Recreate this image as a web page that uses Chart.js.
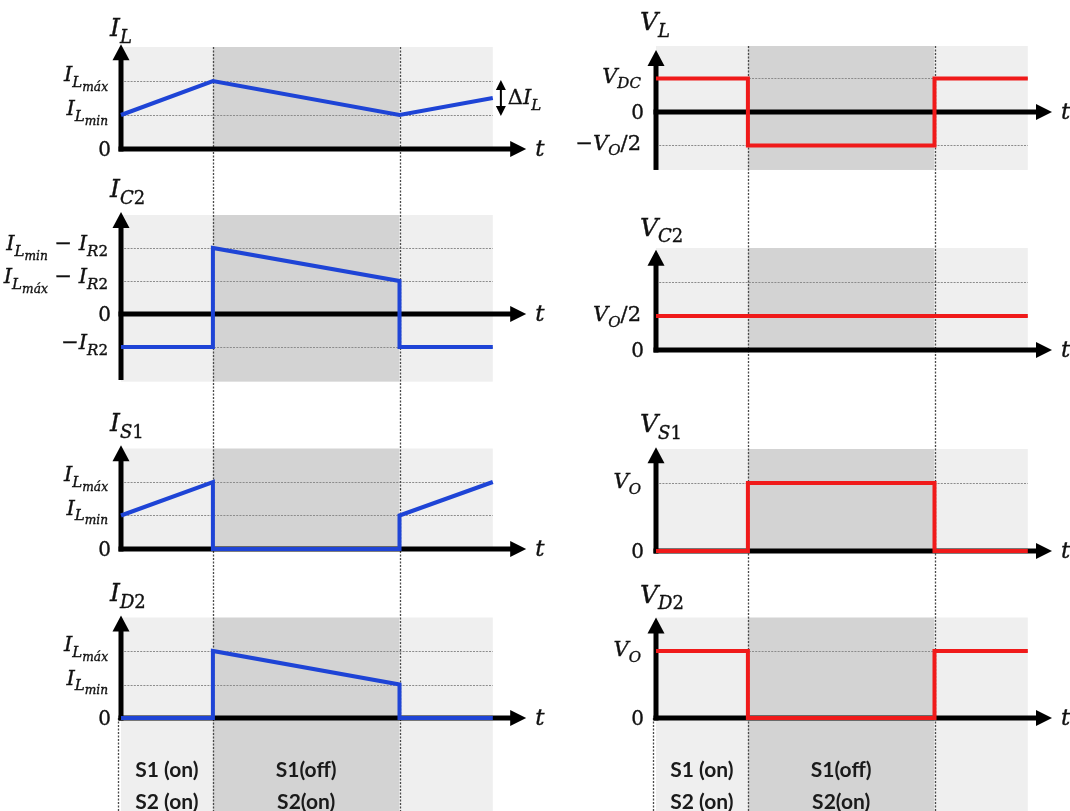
<!DOCTYPE html>
<html>
<head>
<meta charset="utf-8">
<script src="https://cdn.jsdelivr.net/npm/chart.js@4/dist/chart.umd.min.js"></script>
<style>
  html, body { margin: 0; padding: 0; background: #fff; }
  #wrap { position: relative; width: 1070px; height: 811px; }
</style>
</head>
<body>
<div id="wrap"><canvas id="c"></canvas></div>
<script>
// ---- Switching intervals (time in units of the period T) ----
// S1 on from 0 to D, S1 off from D to T, then a little of the next period.
const phaseTimes = [0, 0.33, 1, 1.335];
const rampTimes  = [0, 0.33, 1, 1.335];
const stepTimes  = [0, 0.33, 0.33, 1, 1, 1.335];
const flatTimes  = [0, 1.335];

// ---- Waveforms (normalised levels) ----
const iL  = [1, 2, 1, 1.5];
const iC2 = [-1, -1, 2, 1, -1, -1];
const iS1 = [1, 2, 0, 0, 1, 2];
const iD2 = [0, 0, 2, 1, 0, 0];
const vL  = [1, 1, -1, -1, 1, 1];
const vC2 = [1, 1];
const vS1 = [0, 0, 2, 2, 0, 0];
const vD2 = [2, 2, 0, 0, 2, 2];

// ---- Axis titles and tick labels (TeX-like subscripts) ----
const titles = ['I_{L}', 'I_{C2}', 'I_{S1}', 'I_{D2}', 'V_{L}', 'V_{C2}', 'V_{S1}', 'V_{D2}'];
const ticksIL  = [0, 1, 2];      const labelsIL  = ['0', 'I_{L_{min}}', 'I_{L_{máx}}'];
const ticksIC2 = [-1, 0, 1, 2];  const labelsIC2 = ['−I_{R2}', '0', 'I_{L_{máx}} − I_{R2}', 'I_{L_{min}} − I_{R2}'];
const ticksIS1 = [0, 1, 2];      const labelsIS1 = ['0', 'I_{L_{min}}', 'I_{L_{máx}}'];
const ticksID2 = [0, 1, 2];      const labelsID2 = ['0', 'I_{L_{min}}', 'I_{L_{máx}}'];
const ticksVL  = [-1, 0, 1];     const labelsVL  = ['−V_{O}/2', '0', 'V_{DC}'];
const ticksVC2 = [0, 1, 2];      const labelsVC2 = ['0', 'V_{O}/2', ''];
const ticksVS1 = [0, 2];         const labelsVS1 = ['0', 'V_{O}'];
const ticksVD2 = [0, 2];         const labelsVD2 = ['0', 'V_{O}'];
const rippleLabel = 'ΔI_{L}';
const phaseLabels = [['S1 (on)', 'S2 (on)'], ['S1(off)', 'S2(on)']];

// ---- Page layout ----
const W = 1070, H = 811;
const PX_PER_T = 278.5;
const BLUE = '#1e44d6', RED = '#f01a1a';
const LIGHT = '#efefef', DARK = '#d3d3d3';
const MATH = '"DejaVu Serif", "Liberation Serif", serif';

const columns = {
  L: { id: 'xL', x0: 121, arrowT: 1.455, labelGap: 13, titleShift: 11 },
  R: { id: 'xR', x0: 656, arrowT: 1.422, labelGap: 15, titleShift: 16 }
};

const panels = [
  { id: 'yIL',  col: 'L', zero: 149, unit: 34,   bgTop: 3,    bgBot: 0,     axisBot: 0,     arrowTop: 3.08, titleDy: 8,  labelDy: 0,  ticks: ticksIL,  labels: labelsIL },
  { id: 'yIC2', col: 'L', zero: 314, unit: 33,   bgTop: 3,    bgBot: -2.05, axisBot: -2.0,  arrowTop: 3.09, titleDy: 15, labelDy: 2,  ticks: ticksIC2, labels: labelsIC2 },
  { id: 'yIS1', col: 'L', zero: 549, unit: 33.5, bgTop: 3,    bgBot: 0,     axisBot: 0,     arrowTop: 3.1,  titleDy: 14, labelDy: -1, ticks: ticksIS1, labels: labelsIS1 },
  { id: 'yID2', col: 'L', zero: 718, unit: 33.5, bgTop: 3,    bgBot: -2.8,  axisBot: 0,     arrowTop: 3.06, titleDy: 14, labelDy: 0,  ticks: ticksID2, labels: labelsID2 },
  { id: 'yVL',  col: 'R', zero: 112, unit: 33.5, bgTop: 1.97, bgBot: -1.73, axisBot: -1.73, arrowTop: 1.85, titleDy: 20, labelDy: 4,  ticks: ticksVL,  labels: labelsVL },
  { id: 'yVC2', col: 'R', zero: 350, unit: 34,   bgTop: 3,    bgBot: 0,     axisBot: 0,     arrowTop: 2.95, titleDy: 14, labelDy: 5,  ticks: ticksVC2, labels: labelsVC2 },
  { id: 'yVS1', col: 'R', zero: 551, unit: 34,   bgTop: 3,    bgBot: 0,     axisBot: 0,     arrowTop: 3.05, titleDy: 15, labelDy: 5,  ticks: ticksVS1, labels: labelsVS1 },
  { id: 'yVD2', col: 'R', zero: 718, unit: 33.5, bgTop: 3,    bgBot: -2.8,  axisBot: 0,     arrowTop: 3.0,  titleDy: 15, labelDy: 5,  ticks: ticksVD2, labels: labelsVD2 }
];

// ---- Rich text: italic letters, upright digits/symbols, nested subscripts ----
function parseRich(s, level, out) {
  let buf = '';
  const flush = () => { if (buf) { out.push({ text: buf, level }); buf = ''; } };
  for (let i = 0; i < s.length; i++) {
    const ch = s[i];
    if (ch === '_') {
      flush();
      if (s[i + 1] === '{') {
        let depth = 0, j = i + 1;
        for (; j < s.length; j++) {
          if (s[j] === '{') depth++;
          else if (s[j] === '}') { depth--; if (depth === 0) break; }
        }
        parseRich(s.slice(i + 2, j), level + 1, out);
        i = j;
      } else {
        out.push({ text: s[i + 1], level: level + 1 });
        i++;
      }
    } else {
      buf += ch;
    }
  }
  flush();
  return out;
}

function richPieces(c, str, size) {
  const sizes = [size, size * 0.72, size * 0.58];
  const drops = [0, size * 0.27, size * 0.46];
  const pieces = [];
  parseRich(str, 0, []).forEach(seg => {
    const lv = Math.min(seg.level, 2);
    let run = '', runItalic = null;
    const push = () => {
      if (!run) return;
      const font = (runItalic ? 'italic ' : '') + sizes[lv].toFixed(1) + 'px ' + MATH;
      c.font = font;
      pieces.push({ text: run, font, dy: drops[lv], w: c.measureText(run).width });
      run = '';
    };
    for (const ch of seg.text) {
      const it = /[A-Za-zá]/.test(ch);
      if (runItalic !== null && it !== runItalic) push();
      runItalic = it;
      run += ch;
    }
    push();
  });
  return pieces;
}

function drawRich(c, str, x, y, size, align) {
  const pieces = richPieces(c, str, size);
  const total = pieces.reduce((a, p) => a + p.w, 0);
  let cx = align === 'right' ? x - total : align === 'center' ? x - total / 2 : x;
  c.textBaseline = 'alphabetic';
  c.textAlign = 'left';
  c.fillStyle = '#111';
  c.strokeStyle = '#111';
  c.lineWidth = 0.35;
  pieces.forEach(p => {
    c.font = p.font;
    c.fillText(p.text, cx, y + p.dy);
    c.strokeText(p.text, cx, y + p.dy);
    cx += p.w;
  });
}

// ---- Drawing helpers ----
function line(c, x1, y1, x2, y2) { c.beginPath(); c.moveTo(x1, y1); c.lineTo(x2, y2); c.stroke(); }
function tri(c, pts) { c.beginPath(); c.moveTo(pts[0], pts[1]); c.lineTo(pts[2], pts[3]); c.lineTo(pts[4], pts[5]); c.closePath(); c.fill(); }

const decorations = {
  id: 'decorations',
  beforeDatasetsDraw(chart) {
    const c = chart.ctx;
    c.save();
    // shaded switching intervals
    panels.forEach(p => {
      const xs = chart.scales[columns[p.col].id], ys = chart.scales[p.id];
      const y1 = ys.getPixelForValue(p.bgTop), y2 = ys.getPixelForValue(p.bgBot);
      for (let i = 0; i < phaseTimes.length - 1; i++) {
        const x1 = xs.getPixelForValue(phaseTimes[i]), x2 = xs.getPixelForValue(phaseTimes[i + 1]);
        c.fillStyle = i === 1 ? DARK : LIGHT;
        c.fillRect(x1, y1, x2 - x1, y2 - y1);
      }
    });
    // dotted level lines
    c.strokeStyle = '#8c8c8c';
    c.lineWidth = 1.2;
    c.setLineDash([2, 1.2]);
    panels.forEach(p => {
      const xs = chart.scales[columns[p.col].id], ys = chart.scales[p.id];
      p.ticks.forEach(v => {
        if (v === 0) return;
        const y = Math.round(ys.getPixelForValue(v)) + 0.5;
        line(c, xs.getPixelForValue(0), y, xs.getPixelForValue(phaseTimes[3]), y);
      });
    });
    // switching instants
    c.strokeStyle = '#4a4a4a';
    c.lineWidth = 1.3;
    c.setLineDash([2, 1.5]);
    Object.keys(columns).forEach(k => {
      const xs = chart.scales[columns[k].id];
      const colPanels = panels.filter(p => p.col === k);
      const top = chart.scales[colPanels[0].id].getPixelForValue(colPanels[0].bgTop);
      const last = colPanels[colPanels.length - 1];
      [phaseTimes[1], phaseTimes[2]].forEach(t => {
        const x = Math.round(xs.getPixelForValue(t)) + 0.5;
        line(c, x, top, x, H);
      });
      const x0 = Math.round(xs.getPixelForValue(0)) - 2.5;
      line(c, x0, chart.scales[last.id].getPixelForValue(0), x0, H);
    });
    c.setLineDash([]);
    // axes with arrowheads
    c.fillStyle = '#000';
    c.strokeStyle = '#000';
    c.lineWidth = 5;
    c.lineCap = 'butt';
    panels.forEach(p => {
      const col = columns[p.col];
      const xs = chart.scales[col.id], ys = chart.scales[p.id];
      const x0 = xs.getPixelForValue(0);
      const yZero = ys.getPixelForValue(0);
      const yTip = ys.getPixelForValue(p.arrowTop);
      const yBot = ys.getPixelForValue(p.axisBot) + (p.axisBot === 0 ? 2.5 : 0);
      line(c, x0, yBot, x0, yTip + 14);
      tri(c, [x0, yTip, x0 - 8.5, yTip + 16, x0 + 8.5, yTip + 16]);
      const xTip = xs.getPixelForValue(col.arrowT);
      line(c, x0 - 2.5, yZero, xTip - 14, yZero);
      tri(c, [xTip, yZero, xTip - 16, yZero - 8, xTip - 16, yZero + 8]);
    });
    c.restore();
  },
  afterDatasetsDraw(chart) {
    const c = chart.ctx;
    c.save();
    panels.forEach((p, idx) => {
      const col = columns[p.col];
      const xs = chart.scales[col.id], ys = chart.scales[p.id];
      const x0 = xs.getPixelForValue(0);
      // axis title
      drawRich(c, titles[idx], x0 - col.titleShift, ys.getPixelForValue(p.arrowTop) - p.titleDy, 25, 'left');
      // level labels
      p.ticks.forEach((v, i) => {
        const txt = p.labels[i];
        if (!txt) return;
        const y = ys.getPixelForValue(v);
        const right = x0 - col.labelGap;
        if (v === 0) drawRich(c, txt, right + 3, y + 7, 20, 'right');
        else drawRich(c, txt, right, y + p.labelDy, 21, 'right');
      });
      // time label
      drawRich(c, 't', xs.getPixelForValue(col.arrowT) + 9, ys.getPixelForValue(0) + 7, 23, 'left');
    });
    // ripple marker on the inductor current
    const xs = chart.scales.xL, ys = chart.scales.yIL;
    const xr = xs.getPixelForValue(1.364);
    const yHi = ys.getPixelForValue(2), yLo = ys.getPixelForValue(1);
    c.strokeStyle = '#000'; c.fillStyle = '#000'; c.lineWidth = 2;
    line(c, xr, yHi + 8, xr, yLo - 8);
    tri(c, [xr, yHi - 1, xr - 5, yHi + 9, xr + 5, yHi + 9]);
    tri(c, [xr, yLo + 1, xr - 5, yLo - 9, xr + 5, yLo - 9]);
    drawRich(c, rippleLabel, xr + 7, (yHi + yLo) / 2 + 6, 21, 'left');
    // switch states under the bottom plots
    ['L', 'R'].forEach(k => {
      const sx = chart.scales[columns[k].id];
      const bottom = panels.filter(p => p.col === k).pop();
      const yAxis = chart.scales[bottom.id].getPixelForValue(0);
      phaseLabels.forEach((pair, i) => {
        const xm = (sx.getPixelForValue(phaseTimes[i]) + sx.getPixelForValue(phaseTimes[i + 1])) / 2;
        c.font = 'bold 21px Lato';
        c.fillStyle = '#1a1a1a';
        c.textAlign = 'center';
        c.textBaseline = 'middle';
        c.fillText(pair[0], xm, yAxis + 52);
        c.fillText(pair[1], xm, yAxis + 84);
      });
    });
    c.restore();
  }
};

// ---- Scales: every panel gets its own hidden y scale spanning the canvas ----
const scales = {};
Object.values(columns).forEach(col => {
  scales[col.id] = { type: 'linear', display: false, min: -col.x0 / PX_PER_T, max: (W - col.x0) / PX_PER_T };
});
panels.forEach(p => {
  scales[p.id] = { type: 'linear', display: false, min: (p.zero - H) / p.unit, max: p.zero / p.unit };
});

function series(times, vals) { return times.map((t, i) => ({ x: t, y: vals[i] })); }
function trace(times, vals, x, y, color) {
  return {
    data: series(times, vals), xAxisID: x, yAxisID: y,
    showLine: true, borderColor: color, borderWidth: 4, pointRadius: 0,
    tension: 0, fill: false, borderJoinStyle: 'miter', borderCapStyle: 'butt'
  };
}

new Chart(document.getElementById('c'), {
  type: 'scatter',
  data: {
    datasets: [
      trace(rampTimes, iL,  'xL', 'yIL',  BLUE),
      trace(stepTimes, iC2, 'xL', 'yIC2', BLUE),
      trace(stepTimes, iS1, 'xL', 'yIS1', BLUE),
      trace(stepTimes, iD2, 'xL', 'yID2', BLUE),
      trace(stepTimes, vL,  'xR', 'yVL',  RED),
      trace(flatTimes, vC2, 'xR', 'yVC2', RED),
      trace(stepTimes, vS1, 'xR', 'yVS1', RED),
      trace(stepTimes, vD2, 'xR', 'yVD2', RED)
    ]
  },
  options: {
    responsive: true,
    maintainAspectRatio: false,
    animation: false,
    events: [],
    layout: { padding: 0 },
    scales,
    plugins: { legend: { display: false }, tooltip: { enabled: false } }
  },
  plugins: [decorations]
});
</script>
</body>
</html>
